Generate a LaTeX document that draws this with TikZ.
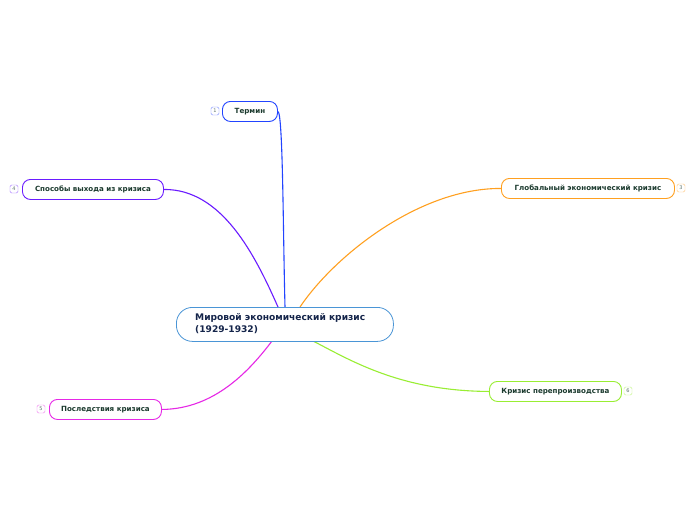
\documentclass[tikz,border=0pt]{standalone}
\usepackage{fontspec}
\setmainfont{DejaVu Sans}
\usetikzlibrary{backgrounds}
\begin{document}
\begin{tikzpicture}[x=1pt,y=-1pt,
  topic/.style={draw=#1, line width=0.9pt, rounded corners=8pt, fill=white, minimum height=20pt, inner sep=0pt, text=txt, font=\fontsize{7.1}{8}\selectfont\bfseries, anchor=north west},
  num/.style={draw=#1!60, line width=0.4pt, rounded corners=1.5pt, minimum width=8pt, minimum height=8pt, inner sep=0pt, text=txt!70, font=\fontsize{5}{5}\selectfont},
  conn/.style={draw=#1, line width=1.1pt}]
\definecolor{txt}{HTML}{1B3A2E}
\definecolor{cblue}{HTML}{2244FF}
\definecolor{cpurple}{HTML}{6A1BFF}
\definecolor{corange}{HTML}{FFA020}
\definecolor{cmag}{HTML}{E628E6}
\definecolor{cgreen}{HTML}{99EE33}
\definecolor{cmain}{HTML}{4A95D6}
\definecolor{navy}{HTML}{14244A}
\useasboundingbox (0,0) rectangle (696,520);
\node[draw=cmain, line width=0.8pt, fill=white, rounded corners=16pt, minimum width=217pt, minimum height=34pt, anchor=north west, inner sep=0pt] (main) at (176,307) {};
\node[anchor=north west, text=navy, font=\fontsize{9.1}{12}\selectfont\bfseries, align=left, inner sep=0pt] (maintext) at (195,313) {Мировой экономический кризис\\(1929-1932)};
\coordinate (mT) at (285,307);
\coordinate (mS) at (278,307);
\coordinate (mG) at (300,307);
\coordinate (mP) at (272,341);
\coordinate (mK) at (313,341);
\node[topic=cblue, minimum width=55pt] (t1) at (222,101) {Термин};
\node[topic=cpurple, minimum width=141pt] (t4) at (22,179) {Способы выхода из кризиса};
\node[topic=corange, minimum width=173pt] (t3) at (501,178) {Глобальный экономический кризис};
\node[topic=cmag, minimum width=112pt] (t5) at (49,399) {Последствия кризиса};
\node[topic=cgreen, minimum width=132pt] (t6) at (489,381) {Кризис перепроизводства};
\begin{scope}[on background layer]
\fill[white] (0,0) rectangle (696,520);
\draw[conn=cblue] (t1.east) .. controls (283,113) and (283,230) .. (mT);
\draw[conn=cpurple] (t4.east) .. controls (222,189) and (255,255) .. (mS);
\draw[conn=corange] (t3.west) .. controls (420,188) and (335,255) .. (mG);
\draw[conn=cmag] (t5.east) .. controls (215,409) and (250,370) .. (mP);
\draw[conn=cgreen] (t6.west) .. controls (400,391) and (350,360) .. (mK);
\end{scope}
\node[num=cblue] (n1) at (215,111) {1};
\node[num=cpurple] (n4) at (14,189) {4};
\node[num=corange] (n3) at (681,188) {3};
\node[num=cmag] (n5) at (41,409) {5};
\node[num=cgreen] (n6) at (628,391) {6};
\end{tikzpicture}
\end{document}
